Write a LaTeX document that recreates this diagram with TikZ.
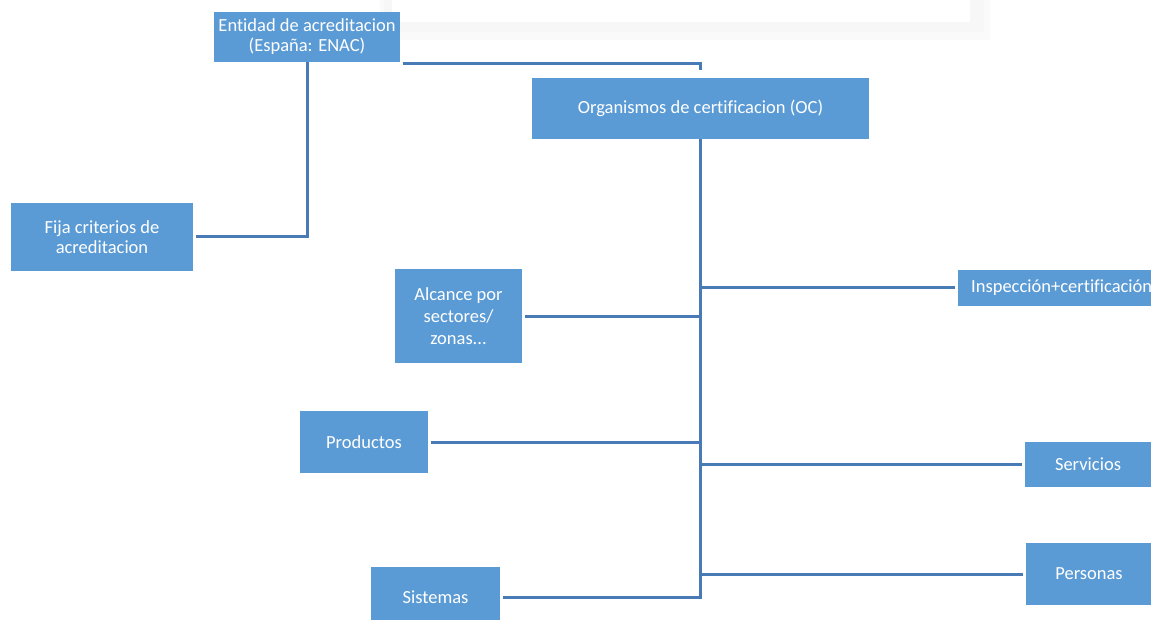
\documentclass[tikz,border=0pt]{standalone}
\usepackage{fontspec}
\setmainfont{Carlito}[Ligatures=NoCommon]
\definecolor{boxblue}{RGB}{91,155,213}
\definecolor{lineblue}{RGB}{72,122,182}

\begin{document}
\begin{tikzpicture}[x=1pt,y=-1pt,
        conn/.style={draw=lineblue,line width=3pt,shorten >=3pt}]
        \useasboundingbox (0,0) rectangle (1151,620);

        % faded band at the top
        \fill[black!2] (380,0) rectangle (990,40);
        \fill[black!3] (384,0) rectangle (984,32);
        \fill[white] (392,0) rectangle (970,22);

        \begin{scope}
            \tikzstyle{every node}=[rectangle,fill=boxblue,text=white,align=center,inner sep=0pt,font=\fontsize{18.5}{20}\selectfont]

            \node[minimum width=186pt,minimum height=50pt] (ent) at (307,37) {Entidad de acreditacion\\(España: ENAC)};
            \node[minimum width=337pt,minimum height=61pt] (oc) at (700.5,108.5) {Organismos de certificacion (OC)};
            \node[minimum width=182pt,minimum height=68pt] (fija) at (102,237) {Fija criterios de\\acreditacion};

            \node[minimum width=127pt,minimum height=94pt,font=\fontsize{18.5}{22}\selectfont] (alc) at (458.5,316) {Alcance por\\sectores/\\zonas...};
            \node[minimum width=128pt,minimum height=62pt] (prod) at (364,442) {Productos};
            \node[minimum width=129pt,minimum height=60pt] (sist) at (435.5,597) {Sistemas};

            \node[anchor=west,minimum height=36pt,inner xsep=13pt] (insp) at (958,288) {Inspección+certificación};
            \node[minimum width=126pt,minimum height=45pt] (serv) at (1088,464.5) {Servicios};
            \node[minimum width=126pt,minimum height=62pt] (pers) at (1089,574) {Personas};
        \end{scope}

        \draw[conn] ([xshift=3pt,yshift=-1.5pt]ent.south east) -| ([yshift=5pt]oc.north);
        \draw[conn] (ent.south) |- (fija.east);

        \foreach \leaf in {alc,prod,sist} {
            \draw[conn] (oc.south) |- (\leaf.east);
        }
        \foreach \leaf in {insp,serv,pers} {
            \draw[conn] (oc.south) |- (\leaf.west);
        }

\end{tikzpicture}
\end{document}
